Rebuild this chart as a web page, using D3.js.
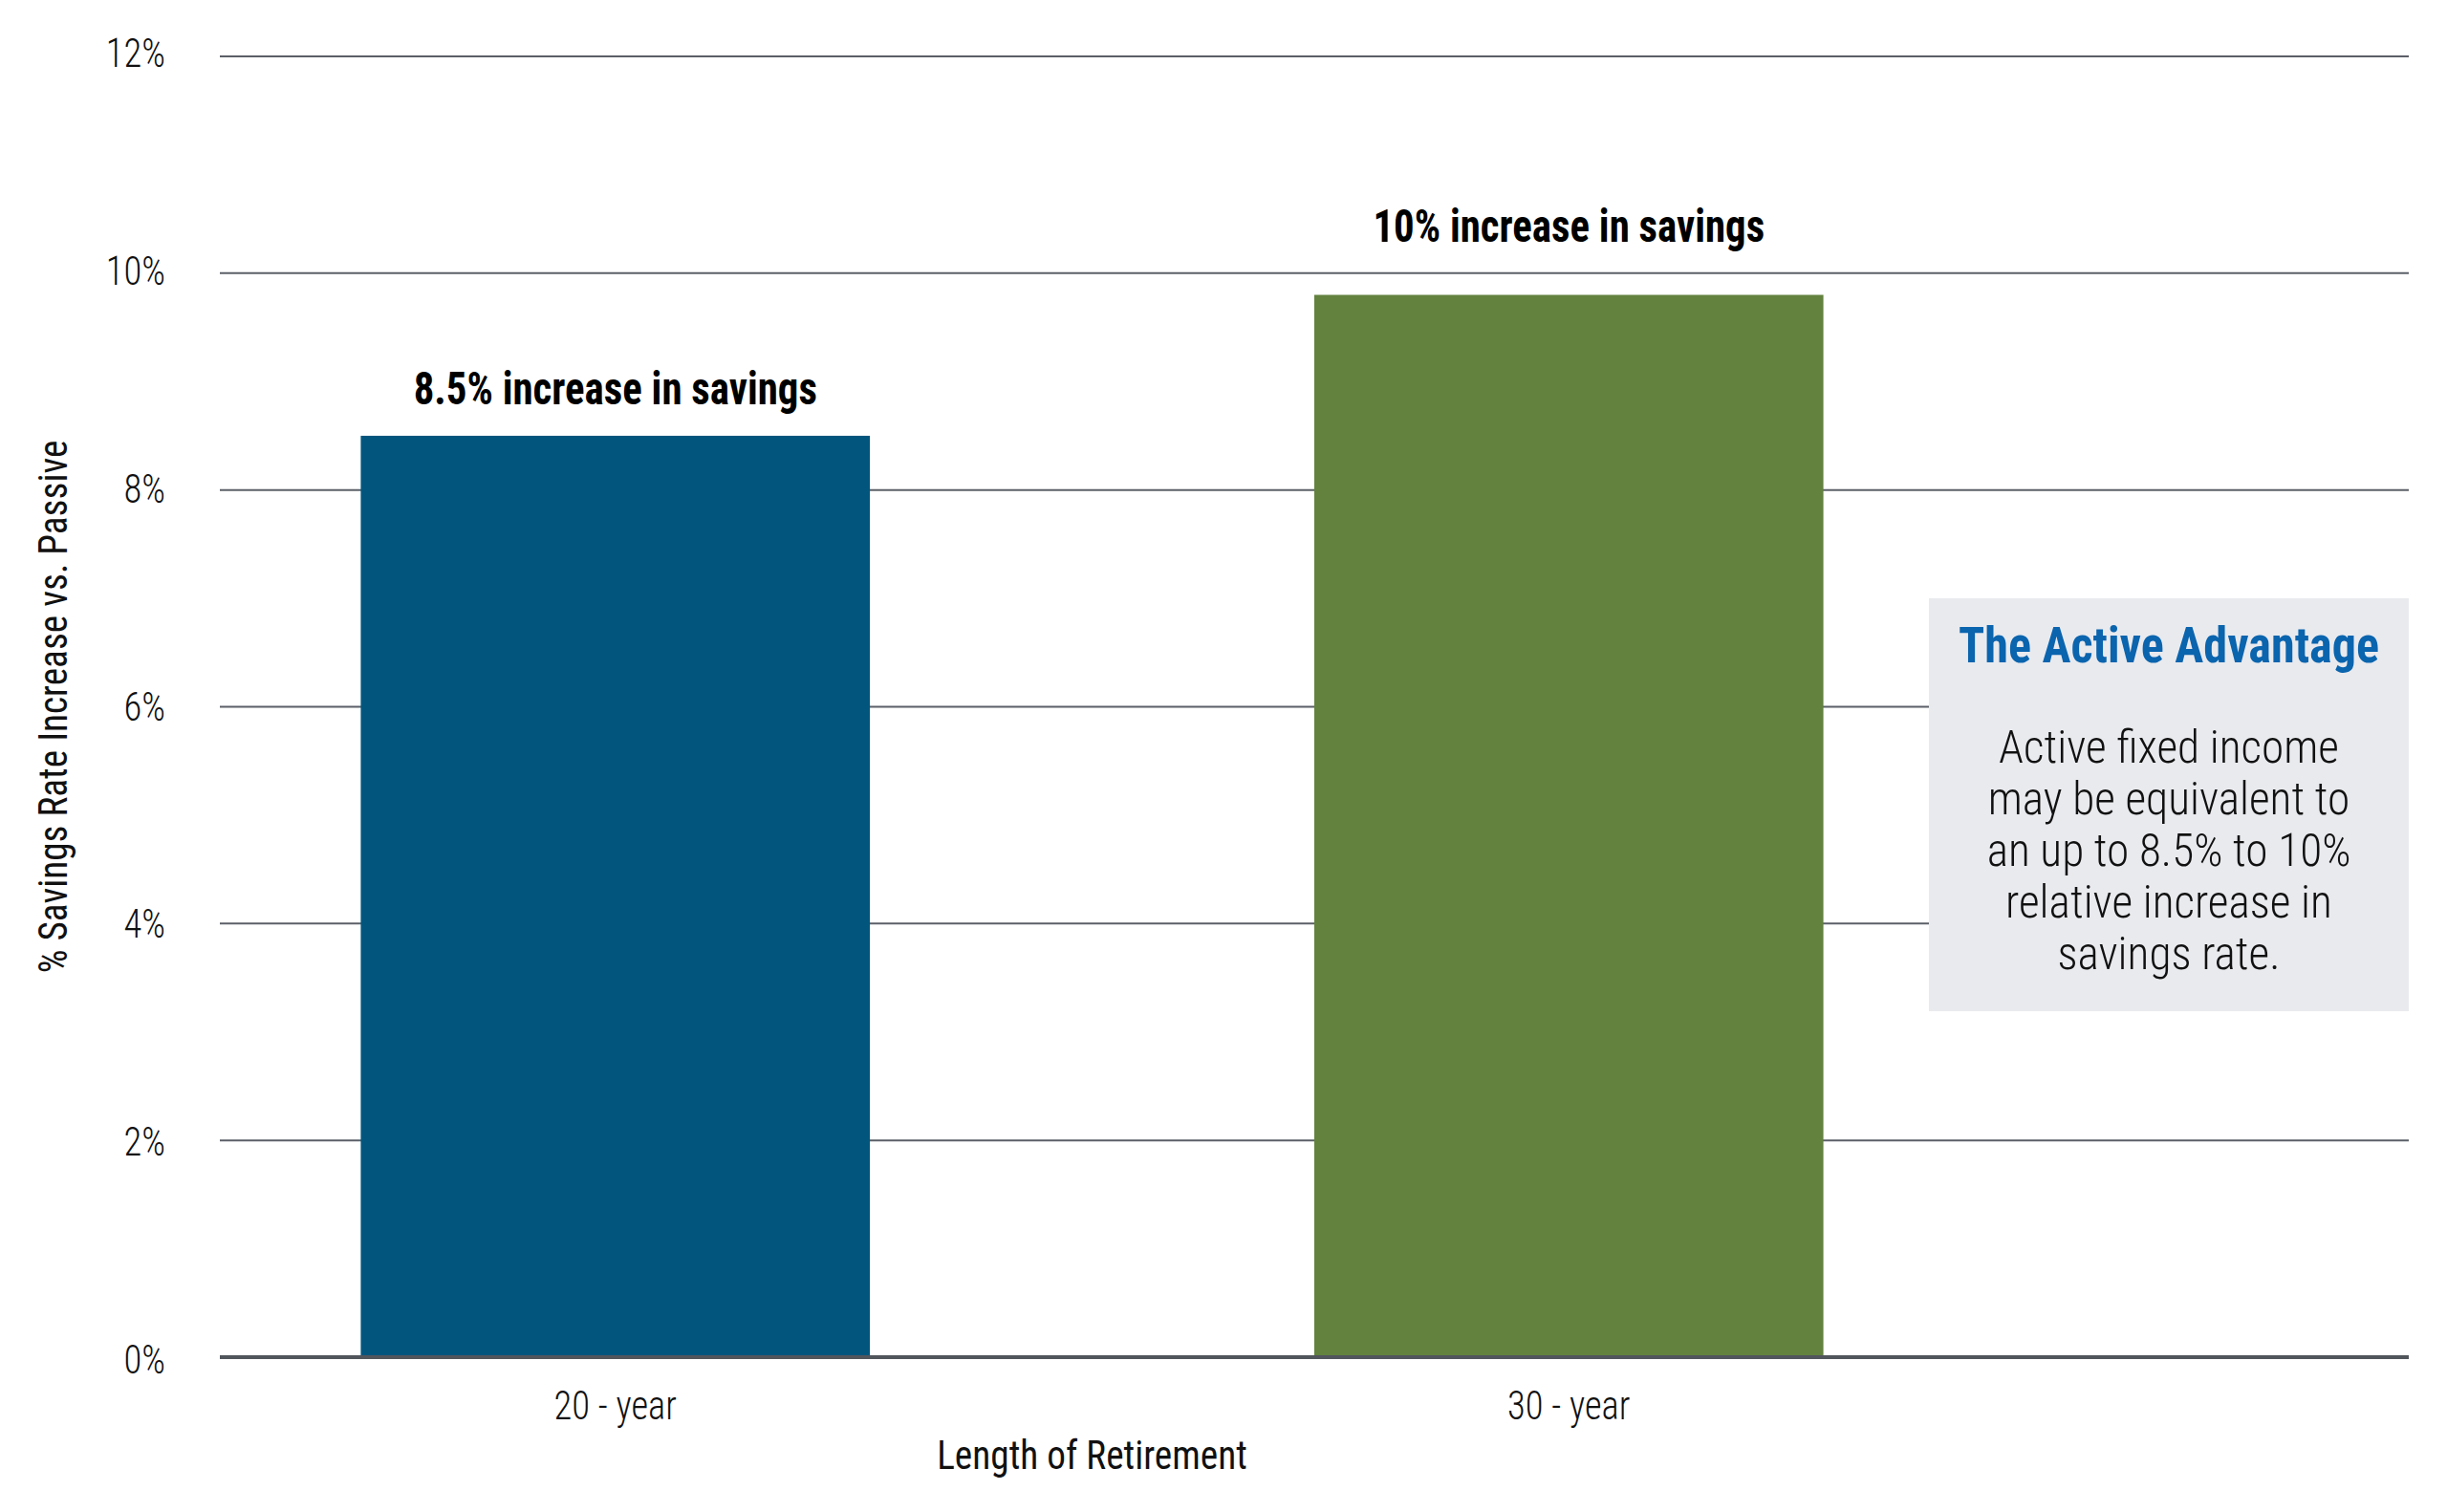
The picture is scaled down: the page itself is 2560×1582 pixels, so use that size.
<!DOCTYPE html>
<html>
<head>
<meta charset="utf-8">
<script src="https://cdnjs.cloudflare.com/ajax/libs/d3/7.8.5/d3.min.js"></script>
<style>
	body { margin: 0; background: white; }
	text { font-family: "Roboto Condensed", Roboto, "Noto Sans", sans-serif; }
</style>
</head>
<body>
<svg></svg>
<script>
var w = 2560;
var h = 1582;

// data
var categories = ["20 - year", "30 - year"];
var values = [8.5, 9.8];
var barColors = ["#02567e", "#62823e"];
var barLabels = ["8.5% increase in savings", "10% increase in savings"];
var labelValues = [8.5, 10];
var yTicks = [0, 2, 4, 6, 8, 10, 12];
var boxTitle = "The Active Advantage";
var boxLines = ["Active fixed income", "may be equivalent to", "an up to 8.5% to 10%", "relative increase in", "savings rate."];

var canvas = d3.select("svg")
	.attr("width", w)
	.attr("height", h)
	.style("background-color", "white");

var gridLeft = 230;
var gridRight = 2520;

var y = d3.scaleLinear()
	.domain([0, 12])
	.range([1420, 59]);

// tick labels sit on a slightly wider spacing than the grid
var yLabel = d3.scaleLinear()
	.domain([0, 12])
	.range([1437, 70]);

var x = d3.scaleBand()
	.domain(categories)
	.range([145, 2140])
	.paddingInner(0.466)
	.paddingOuter(0.233);

// narrow the glyphs, the original face is a condensed one
function place(sel, px, py, k) {
	return sel.attr("transform", "translate(" + px + "," + py + ") scale(" + k + ",1)");
}

// grid lines
canvas.append("g")
	.selectAll("line")
	.data(yTicks.filter(function (d) { return d > 0; }))
	.join("line")
	.attr("x1", gridLeft)
	.attr("x2", gridRight)
	.attr("y1", function (d) { return y(d); })
	.attr("y2", function (d) { return y(d); })
	.attr("stroke", "#5b5f67")
	.attr("stroke-width", 2);

// tick labels
canvas.append("g")
	.selectAll("text")
	.data(yTicks)
	.join("text")
	.each(function (d) { place(d3.select(this), 173, yLabel(d), 0.92); })
	.attr("text-anchor", "end")
	.attr("font-size", 42)
	.attr("font-weight", 300)
	.attr("fill", "#111")
	.text(function (d) { return d + "%"; });

// bars
canvas.append("g")
	.selectAll("rect")
	.data(values)
	.join("rect")
	.attr("x", function (d, i) { return x(categories[i]); })
	.attr("width", x.bandwidth())
	.attr("y", function (d) { return y(d); })
	.attr("height", function (d) { return y(0) - y(d); })
	.attr("fill", function (d, i) { return barColors[i]; });

// bar labels
canvas.append("g")
	.selectAll("text")
	.data(barLabels)
	.join("text")
	.each(function (d, i) {
		place(d3.select(this), x(categories[i]) + x.bandwidth() / 2, y(labelValues[i]) - 33, 0.875);
	})
	.attr("text-anchor", "middle")
	.attr("font-size", 49)
	.attr("font-weight", 700)
	.attr("fill", "#000")
	.text(function (d) { return d; });

// baseline
canvas.append("line")
	.attr("x1", gridLeft)
	.attr("x2", gridRight)
	.attr("y1", y(0))
	.attr("y2", y(0))
	.attr("stroke", "#51555c")
	.attr("stroke-width", 4);

// x labels
canvas.append("g")
	.selectAll("text")
	.data(categories)
	.join("text")
	.each(function (d) { place(d3.select(this), x(d) + x.bandwidth() / 2, 1485, 0.92); })
	.attr("text-anchor", "middle")
	.attr("font-size", 42)
	.attr("font-weight", 300)
	.attr("fill", "#111")
	.text(function (d) { return d; });

var midX = (x(categories[0]) + x(categories[1]) + x.bandwidth()) / 2;

place(canvas.append("text"), midX, 1537, 0.935)
	.attr("text-anchor", "middle")
	.attr("font-size", 42)
	.attr("font-weight", 400)
	.attr("fill", "#111")
	.text("Length of Retirement");

canvas.append("text")
	.attr("transform", "translate(70," + (y(0) + y(12)) / 2 + ") rotate(-90) scale(0.935,1)")
	.attr("text-anchor", "middle")
	.attr("font-size", 42)
	.attr("font-weight", 400)
	.attr("fill", "#111")
	.text("% Savings Rate Increase vs. Passive");

// callout box
var box = { x: 2018, y: 626, w: 502, h: 432 };
canvas.append("rect")
	.attr("x", box.x)
	.attr("y", box.y)
	.attr("width", box.w)
	.attr("height", box.h)
	.attr("fill", "#e9eaee");

place(canvas.append("text"), box.x + box.w / 2, 693, 0.965)
	.attr("text-anchor", "middle")
	.attr("font-size", 52)
	.attr("font-weight", 700)
	.attr("fill", "#0a64ae")
	.text(boxTitle);

canvas.append("g")
	.selectAll("text")
	.data(boxLines)
	.join("text")
	.each(function (d, i) { place(d3.select(this), box.x + box.w / 2, 798 + i * 54, 0.965); })
	.attr("text-anchor", "middle")
	.attr("font-size", 49)
	.attr("font-weight", 300)
	.attr("fill", "#111")
	.text(function (d) { return d; });
</script>
</body>
</html>
